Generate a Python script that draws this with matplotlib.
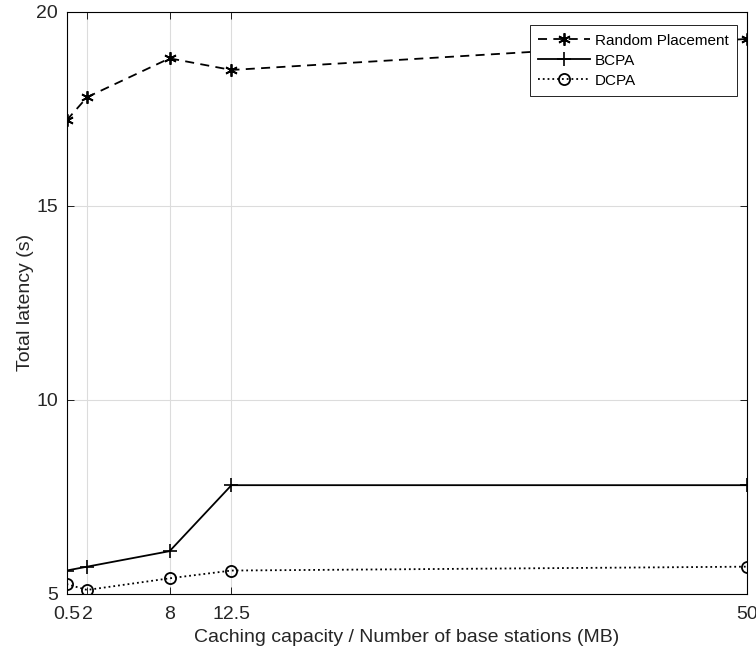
import matplotlib.pyplot as plt
import numpy as np

plt.rcParams['font.family'] = ['Liberation Sans', 'DejaVu Sans']

capacity = [0.5, 2, 8, 12.5, 50]
random_placement = [17.2, 17.8, 18.8, 18.5, 19.3]
bcpa = [5.6, 5.7, 6.1, 7.8, 7.8]
dcpa = [5.25, 5.1, 5.4, 5.6, 5.7]

fig = plt.figure(figsize=(7.56, 6.54), dpi=100)
ax = fig.add_axes([0.088, 0.092, 0.900, 0.890])

ax.plot(capacity, random_placement, 'k--', marker=(6, 2, 0), markersize=9,
        markeredgewidth=1.3, linewidth=1.3, dashes=(5, 3.5), label='Random Placement')
ax.plot(capacity, bcpa, 'k-', marker='+', markersize=10, markeredgewidth=1.2,
        linewidth=1.3, label='BCPA')
ax.plot(capacity, dcpa, 'k:', marker='o', markersize=8, markerfacecolor='none',
        markeredgewidth=1.3, linewidth=1.3, label='DCPA')

ax.set_xlim(0.5, 50)
ax.set_ylim(5, 20)
ax.set_xticks(capacity)
ax.set_xticklabels(['0.5', '2', '8', '12.5', '50'])
ax.set_yticks([5, 10, 15, 20])
ax.tick_params(direction='in', top=True, right=True, labelsize=14, length=5,
               width=0.6, labelcolor='#262626')
ax.tick_params(axis='x', pad=9)
ax.tick_params(axis='y', pad=6)
ax.grid(True, color='#dcdcdc', linewidth=0.8)
for s in ax.spines.values():
    s.set_linewidth(0.8)

ax.set_xlabel('Caching capacity / Number of base stations (MB)', fontsize=14,
              color='#262626', labelpad=4)
ax.set_ylabel('Total latency (s)', fontsize=14, color='#262626', labelpad=2)

leg = ax.legend(loc='upper right', fontsize=11, fancybox=False, framealpha=1,
                edgecolor='black', bbox_to_anchor=(0.985, 0.977), borderaxespad=0,
                handlelength=3.4, borderpad=0.55, labelspacing=0.4,
                handletextpad=0.3)
leg.get_frame().set_linewidth(0.6)

fig.savefig('out.png', dpi=100)
